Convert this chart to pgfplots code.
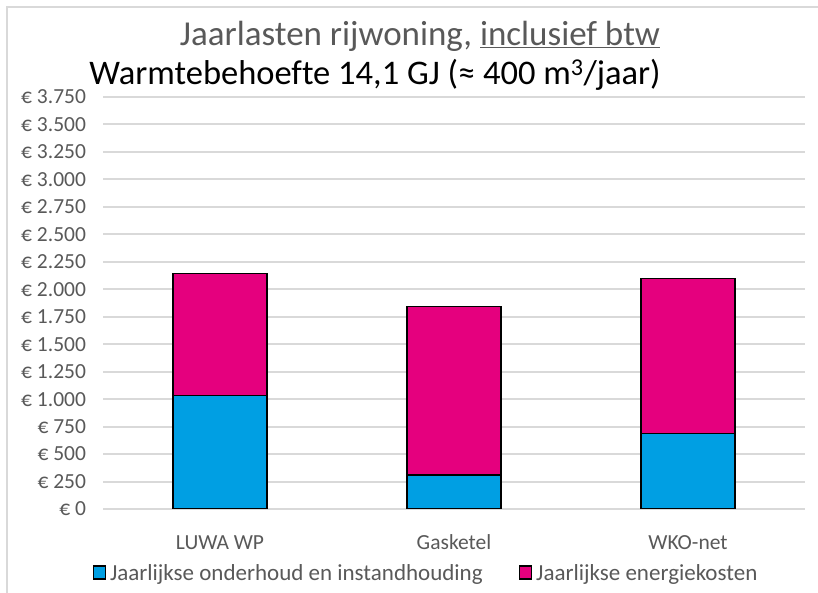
\documentclass[border=0pt]{standalone}
\usepackage{fontspec}
\setmainfont{Carlito}[Ligatures=NoCommon]
\usepackage{pgfplots}
\pgfplotsset{compat=1.18}

\definecolor{onderhoud}{RGB}{0,159,227}
\definecolor{energie}{RGB}{229,0,126}
\definecolor{gridgrey}{RGB}{217,217,217}
\definecolor{txtgrey}{RGB}{89,89,89}

\begin{document}
\begin{tikzpicture}[x=1bp,y=1bp]
\useasboundingbox (0,0) rectangle (818,593);
\fill[white] (0,0) rectangle (818,593);
\draw[gridgrey, line width=2bp] (7,-10) -- (7,586) -- (830,586);

\node[txtgrey, font=\fontsize{35bp}{40bp}\selectfont] at (420,557)
  {Jaarlasten rijwoning, \underline{inclusief btw}};
\node[black, font=\fontsize{34.5bp}{40bp}\selectfont] at (375,518)
  {Warmtebehoefte 14,1 GJ (≈ 400 m\textsuperscript{3}/jaar)};

\begin{axis}[
  at={(103bp,84bp)}, anchor=south west,
  scale only axis, width=702bp, height=412bp,
  ybar stacked, bar width=0.4,
  xmin=-0.5, xmax=2.5, ymin=0, ymax=3750,
  xtick=data, xticklabels={LUWA WP,Gasketel,WKO-net},
  ytick={0,250,...,3750},
  yticklabels={€ 0,€ 250,€ 500,€ 750,€ 1.000,€ 1.250,€ 1.500,€ 1.750,€ 2.000,€ 2.250,€ 2.500,€ 2.750,€ 3.000,€ 3.250,€ 3.500,€ 3.750},
  major tick length=0pt,
  axis line style={draw=none},
  ymajorgrids, grid style={gridgrey, line width=2bp},
  tick label style={txtgrey, font=\fontsize{21.5bp}{25bp}\selectfont},
  xticklabel style={anchor=base, yshift=-41bp},
  yticklabel style={xshift=-13.5bp},
  legend columns=2,
  legend style={at={(0.46,-0.155)}, anchor=center, draw=none, fill=none,
    font=\fontsize{23bp}{27bp}\selectfont, text=txtgrey,
    /tikz/every odd column/.append style={column sep=2bp},
    /tikz/every even column/.append style={column sep=34bp}},
  legend image code/.code={\draw[#1, draw=black, line width=1.5bp] (0bp,-6bp) rectangle (12bp,7bp);},
]
\addplot[fill=onderhoud, draw=black, line width=1.5bp] coordinates {(0,1035) (1,310) (2,685)};
\addplot[fill=energie, draw=black, line width=1.5bp] coordinates {(0,1110) (1,1535) (2,1415)};
\legend{Jaarlijkse onderhoud en instandhouding, Jaarlijkse energiekosten}
\end{axis}
\end{tikzpicture}
\end{document}
